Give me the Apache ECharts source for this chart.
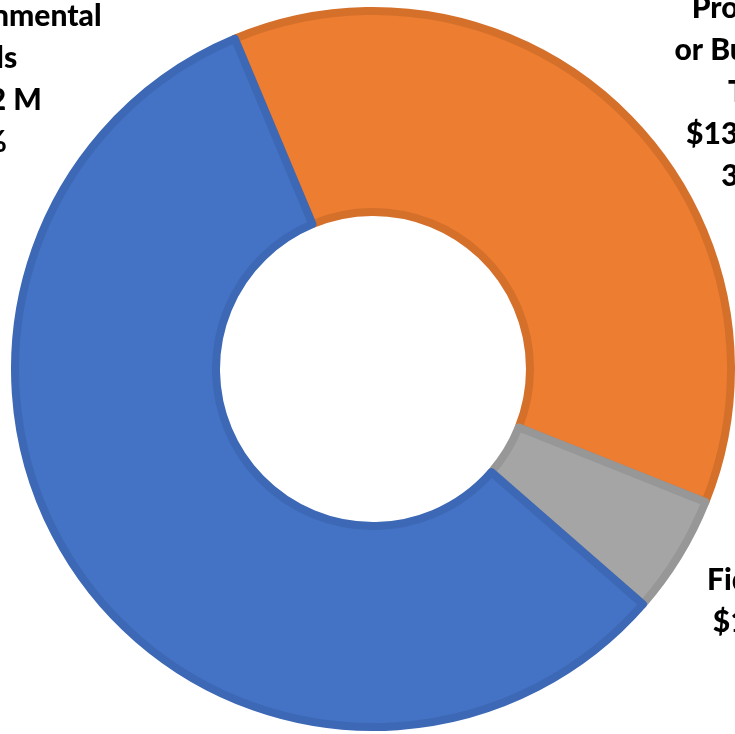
<!DOCTYPE html>
<html>
<head>
<meta charset="utf-8">
<script src="https://cdn.jsdelivr.net/npm/echarts@6/dist/echarts.min.js"></script>
<style>
  html, body { margin: 0; padding: 0; background: #fff; }
  #chart { width: 735px; height: 734px; }
</style>
</head>
<body>
<div id="chart"></div>
<script>
// revenue sources, $ millions (order = clockwise from the top-left boundary)
const categories = ['Property\nor Business\nTax', 'Fiduciary', 'Intergovernmental\nFunds'];
const values = [138.4, 19.8, 212.2];

const fills = ['#ED7D31', '#A5A5A5', '#4472C4'];
const borders = ['#D5702B', '#979797', '#3D68B5'];
// label anchor (block centre) for each slice, canvas px
const labelPos = [[751, 92], [769, 622], [-23, 79]];

const chart = echarts.init(document.getElementById('chart'));

chart.setOption({
  animation: false,
  series: [{
    type: 'pie',
    center: [373, 369],
    radius: [157, 358],
    startAngle: 112.7,
    clockwise: true,
    avoidLabelOverlap: false,
    data: categories.map((c, i) => ({
      name: c,
      value: values[i],
      itemStyle: { color: fills[i], borderColor: borders[i], borderWidth: 8 }
    })),
    label: {
      show: true,
      position: 'outside',
      fontFamily: 'Lato',
      fontWeight: 900,
      fontSize: 30,
      lineHeight: 42,
      color: '#000',
      align: 'center',
      formatter: p => p.name + '\n$' + p.value + ' M\n' + Math.round(p.percent) + '%'
    },
    labelLine: { show: false },
    labelLayout: params => ({
      x: labelPos[params.dataIndex][0],
      y: labelPos[params.dataIndex][1],
      align: 'center',
      verticalAlign: 'middle'
    }),
    emphasis: { disabled: true }
  }]
});
</script>
</body>
</html>
